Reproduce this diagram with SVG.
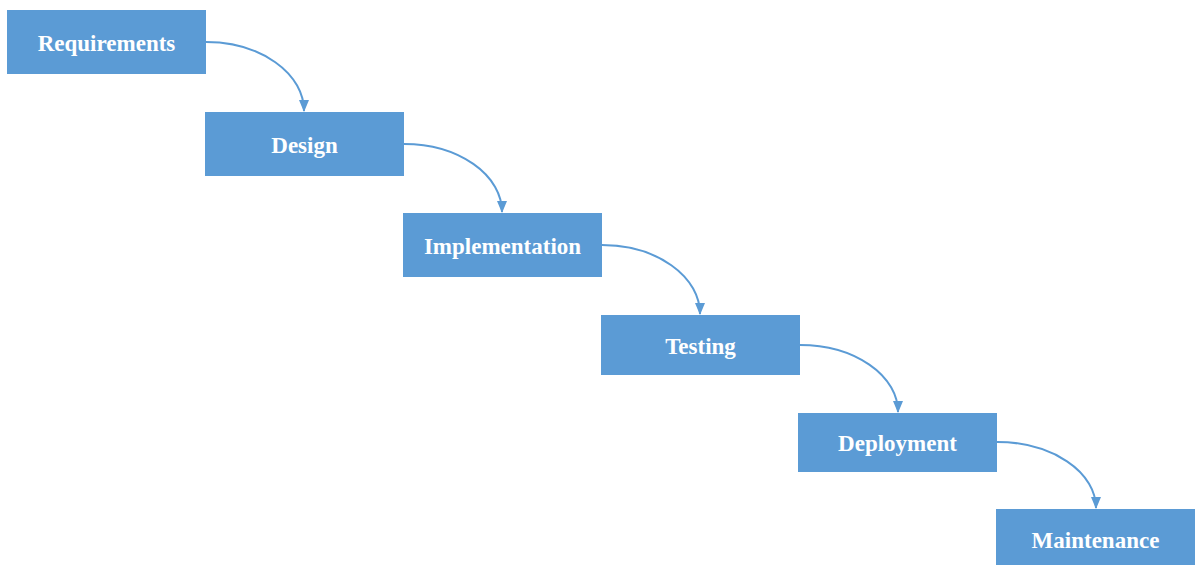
<svg xmlns="http://www.w3.org/2000/svg" width="1195" height="565" viewBox="0 0 1195 565">
<style>
.box{fill:#5B9BD5;}
.lbl{font-family:"Liberation Serif","Times New Roman",serif;font-weight:bold;font-size:23px;fill:#FFFFFF;text-anchor:middle;}
.conn{fill:none;stroke:#5B9BD5;stroke-width:2;marker-end:url(#arrow);}
</style>
<defs>
<marker id="arrow" markerUnits="userSpaceOnUse" markerWidth="12" markerHeight="10" refX="11" refY="5" orient="auto">
<path d="M0,0 L12,5 L0,10 z" fill="#5B9BD5"/>
</marker>
</defs>
<rect width="1195" height="565" fill="#FFFFFF"/>
<g id="connectors">
<path class="conn" d="M206,42 A98,69 0 0 1 304,111"/>
<path class="conn" d="M404,144 A98,68 0 0 1 502,212"/>
<path class="conn" d="M602,245 A98,69 0 0 1 700,314"/>
<path class="conn" d="M800,345 A98,67 0 0 1 898,412"/>
<path class="conn" d="M997,442 A99,66 0 0 1 1096,508"/>
</g>
<g id="requirements"><rect class="box" x="7" y="10" width="199" height="64"/><text class="lbl" x="106.5" y="51">Requirements</text></g>
<g id="design"><rect class="box" x="205" y="112" width="199" height="64"/><text class="lbl" x="304.5" y="152.5">Design</text></g>
<g id="implementation"><rect class="box" x="403" y="213" width="199" height="64"/><text class="lbl" x="502.5" y="253.5">Implementation</text></g>
<g id="testing"><rect class="box" x="601" y="315" width="199" height="60"/><text class="lbl" x="700.5" y="353.5">Testing</text></g>
<g id="deployment"><rect class="box" x="798" y="413" width="199" height="59"/><text class="lbl" x="897.5" y="450.5">Deployment</text></g>
<g id="maintenance"><rect class="box" x="996" y="509" width="199" height="60"/><text class="lbl" x="1095.5" y="548">Maintenance</text></g>
</svg>
